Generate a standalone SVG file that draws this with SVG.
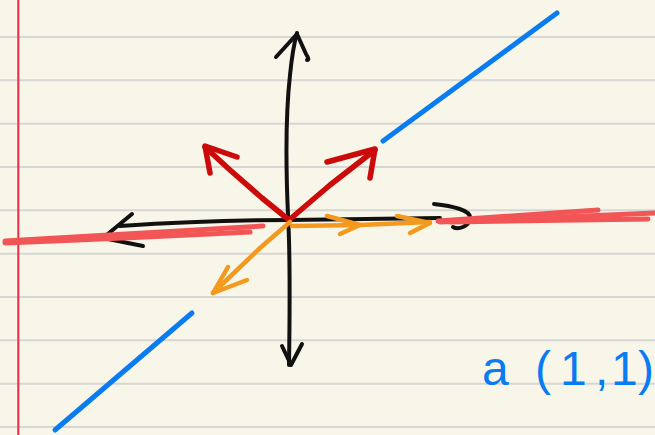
<svg xmlns="http://www.w3.org/2000/svg" width="655" height="435" viewBox="0 0 655 435">
<defs>
<style>
.rule{stroke:#d6d6d4;stroke-width:2;fill:none}
.ink{fill:none;stroke-linecap:round;stroke-linejoin:round}
.k{stroke:#111;stroke-width:4}
.r{stroke:#f25555;stroke-width:5}
.b{stroke:#0a7cf2;stroke-width:5}
.d{stroke:#cc0a0a;stroke-width:5.5}
.o{stroke:#f39a1e;stroke-width:4.5}
</style>
</defs>
<rect width="655" height="435" fill="#f8f5e9"/>
<g id="paper">
<path class="rule" d="M0,37H655M0,80.3H655M0,123.7H655M0,167H655M0,210.3H655M0,253.7H655M0,297H655M0,340.3H655M0,383.7H655M0,427H655"/>
<path d="M18.3,0V435" stroke="#ee2a45" stroke-width="2"/>
</g>
<g id="axes">
<path class="ink k" d="M289,365 C290,300 290,250 288,215 C286,170 285,120 290,75 C292,55 295,40 297,33"/>
<path class="ink k" d="M276,57 L297,34 L306,54 Q310,60 307,60"/>
<path class="ink k" d="M282,346 L291,365 L302,344"/>
<path class="ink k" d="M120,226 C180,222 240,220 290,220 L440,218"/>
<path class="ink k" d="M132,214 L103,238 L143,246"/>
<path class="ink k" d="M434,204 C452,206 471,210 470,218 C469,227 458,230 453,227"/>
</g>
<g id="red-lines">
<path class="ink r" d="M5,241 L263,226"/>
<path class="ink r" d="M5,243 Q130,238 250,232"/>
<path class="ink r" d="M438,221 L598,210"/>
<path class="ink r" d="M440,222 L655,213"/>
<path class="ink r" d="M450,222 L648,219"/>
</g>
<g id="blue-lines">
<path class="ink b" d="M383,141 L557,13"/>
<path class="ink b" d="M55,430 L192,313"/>
</g>
<g id="vectors">
<path class="ink d" d="M289,220 L262,198 L230,170 L205,147"/>
<path class="ink d" d="M237,157 L205,146 L210,173"/>
<path class="ink d" d="M289,220 L330,185 L375,150"/>
<path class="ink d" d="M327,162 L375,149 L370,178"/>
<path class="ink o" d="M290,222 L260,248 L213,293"/>
<path class="ink o" d="M228,267 L213,293 L247,280"/>
<path class="ink o" d="M292,226 L360,225 L430,222"/>
<path class="ink o" d="M327,216 L360,225 L340,234"/>
<path class="ink o" d="M397,216 L430,223 L410,233"/>
</g>
<g id="label">
<text x="482 535 560 595 611 638" y="385" font-family="Liberation Sans, sans-serif" font-size="48" fill="#0a7cf2">a(1,1)</text>
</g>
</svg>
